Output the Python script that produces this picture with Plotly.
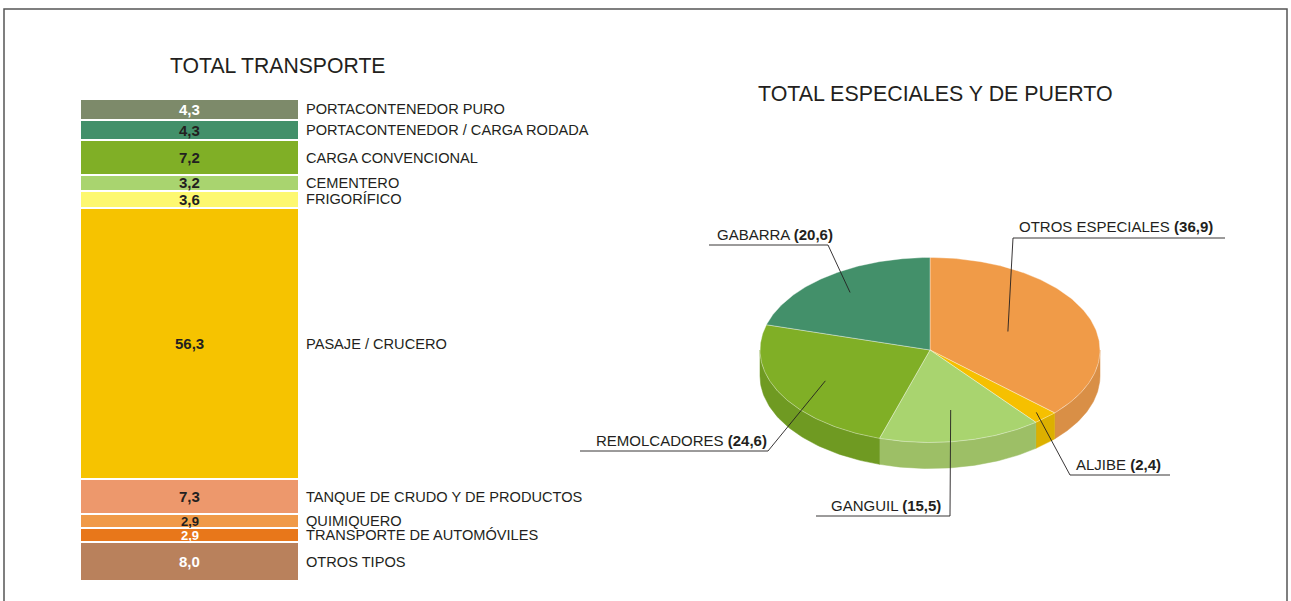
import numpy as np
import plotly.graph_objects as go

# ---- data: TOTAL TRANSPORTE (top to bottom) ----
transporte_tipos = [
    'PORTACONTENEDOR PURO',
    'PORTACONTENEDOR / CARGA RODADA',
    'CARGA CONVENCIONAL',
    'CEMENTERO',
    'FRIGORÍFICO',
    'PASAJE / CRUCERO',
    'TANQUE DE CRUDO Y DE PRODUCTOS',
    'QUIMIQUERO',
    'TRANSPORTE DE AUTOMÓVILES',
    'OTROS TIPOS',
]
transporte_valores = [4.3, 4.3, 7.2, 3.2, 3.6, 56.3, 7.3, 2.9, 2.9, 8.0]
transporte_colores = ['#7d8a6a', '#43906a', '#80af26', '#a9d46f', '#fdf870',
                      '#f6c300', '#ed986c', '#f09a48', '#e8771a', '#b9815c']
transporte_txt = ['white', '#231f20', '#231f20', '#231f20', '#231f20',
                  '#231f20', '#231f20', '#231f20', 'white', 'white']

# ---- data: TOTAL ESPECIALES Y DE PUERTO (clockwise from 12 o'clock) ----
especiales_tipos = ['OTROS ESPECIALES', 'ALJIBE', 'GANGUIL', 'REMOLCADORES', 'GABARRA']
especiales_valores = [36.9, 2.4, 15.5, 24.6, 20.6]
especiales_colores = ['#f09b48', '#f6c000', '#a9d46f', '#80af26', '#43906a']
especiales_lados = ['#d98f46', '#dcb000', '#9dbf66', '#6f9a22', '#3a7d5c']

W, H = 1291, 601
FONT = 'Liberation Sans, Arial, sans-serif'
TXT = '#231f20'


def fmt(v):
    return f'{v:.1f}'.replace('.', ',')


fig = go.Figure()

# ---- stacked bar (bottom first) ----
for name, val, col in zip(transporte_tipos[::-1], transporte_valores[::-1], transporte_colores[::-1]):
    fig.add_trace(go.Bar(
        x=[0], y=[val], name=name, width=1,
        marker=dict(color=col, line=dict(color='white', width=2.5)),
        hoverinfo='name+y', showlegend=False,
        xaxis='x', yaxis='y'
    ))

annotations = []
base = 0
for name, val, tc in zip(transporte_tipos[::-1], transporte_valores[::-1], transporte_txt[::-1]):
    mid = base + val / 2
    size = 15 if val > 3.0 else 13
    annotations.append(dict(x=0, y=mid, xref='x', yref='y', text=f'<b>{fmt(val)}</b>',
                            showarrow=False, font=dict(size=size, color=tc, family=FONT)))
    annotations.append(dict(x=304 / W, y=mid, xref='paper', yref='y', text=name,
                            xanchor='left', showarrow=False,
                            font=dict(size=14.6, color=TXT, family=FONT)))
    base += val

# ---- 3D pie drawn on a pixel-like axis ----
cx, cy, rx, ry, depth = 930, 350, 170, 92.5, 26
fracs = np.array(especiales_valores) / sum(especiales_valores)
ends = 90 - 360 * np.cumsum(fracs)
starts = np.concatenate([[90], ends[:-1]])


def ell(t, dy=0.0):
    r = np.radians(t)
    return cx + rx * np.cos(r), cy - ry * np.sin(r) + dy


# side walls (front half only, angles between -180 and 0)
for t1, t2, col in zip(starts, ends, especiales_lados):
    lo, hi = max(t2, -180), min(t1, 0)
    if hi <= lo:
        continue
    ts = np.linspace(hi, lo, 60)
    xt, yt = ell(ts)
    xb, yb = ell(ts[::-1], depth)
    fig.add_trace(go.Scatter(
        x=np.concatenate([xt, xb, xt[:1]]), y=np.concatenate([yt, yb, yt[:1]]),
        mode='lines', fill='toself', fillcolor=col, line=dict(color=col, width=0.5),
        hoverinfo='skip', showlegend=False, xaxis='x2', yaxis='y2'
    ))

# top faces
for name, t1, t2, col, v in zip(especiales_tipos, starts, ends, especiales_colores, especiales_valores):
    ts = np.linspace(t1, t2, 120)
    xa, ya = ell(ts)
    fig.add_trace(go.Scatter(
        x=np.concatenate([[cx], xa, [cx]]), y=np.concatenate([[cy], ya, [cy]]),
        mode='lines', fill='toself', fillcolor=col,
        line=dict(color='rgba(255,255,255,0.45)', width=0.8),
        name=name, text=f'{name} ({fmt(v)})', hoverinfo='text', showlegend=False,
        xaxis='x2', yaxis='y2'
    ))

# labels with leader lines: (anchor radius fraction, elbow x, elbow y, underline end x, text x, text y)
etiquetas = {
    'OTROS ESPECIALES': (0.5, 1013, 238, 1225, 1017, 226),
    'ALJIBE': (0.92, 1070, 475, 1170, 1074, 464),
    'GANGUIL': (0.66, 950, 516, 816, 829, 505),
    'REMOLCADORES': (0.7, 768, 451, 580, 594, 440),
    'GABARRA': (0.78, 828, 245, 709, 715, 234),
}
for name, t1, t2, v in zip(especiales_tipos, starts, ends, especiales_valores):
    f, ex, ey, ux, tx, ty = etiquetas[name]
    mid = np.radians((t1 + t2) / 2)
    px, py = cx + rx * f * np.cos(mid), cy - ry * f * np.sin(mid)
    fig.add_trace(go.Scatter(
        x=[px, ex, ux], y=[py, ey, ey], mode='lines',
        line=dict(color='#231f20', width=0.9), hoverinfo='skip', showlegend=False,
        xaxis='x2', yaxis='y2'
    ))
    annotations.append(dict(x=tx, y=ty, xref='x2', yref='y2', xanchor='left',
                            text=f'{name} <b>({fmt(v)})</b>', showarrow=False,
                            font=dict(size=15, color=TXT, family=FONT)))

# titles
annotations.append(dict(x=277, y=65, xref='x2', yref='y2', text='TOTAL TRANSPORTE',
                        showarrow=False, font=dict(size=21.2, color=TXT, family=FONT)))
annotations.append(dict(x=935, y=94, xref='x2', yref='y2', text='TOTAL ESPECIALES Y DE PUERTO',
                        showarrow=False, font=dict(size=21.4, color=TXT, family=FONT)))

fig.update_layout(
    width=W, height=H,
    margin=dict(l=0, r=0, t=0, b=0),
    paper_bgcolor='white', plot_bgcolor='rgba(0,0,0,0)',
    barmode='stack', bargap=0,
    xaxis=dict(domain=[80 / W, 299 / W], range=[-0.5, 0.5], visible=False, fixedrange=True),
    yaxis=dict(domain=[1 - 581 / H, 1 - 99 / H], range=[0, 100], visible=False, fixedrange=True),
    xaxis2=dict(domain=[0, 1], range=[0, W], visible=False, anchor='y2'),
    yaxis2=dict(domain=[0, 1], range=[H, 0], visible=False, anchor='x2'),
    annotations=annotations,
    shapes=[dict(type='rect', xref='paper', yref='paper', x0=4 / W, x1=1287 / W,
                 y0=-0.05, y1=1 - 9 / H, line=dict(color='#555555', width=1.5))],
    showlegend=False,
)

fig.write_html('out.html', config={'displayModeBar': False},
               post_script="document.body.style.margin='0px';")
